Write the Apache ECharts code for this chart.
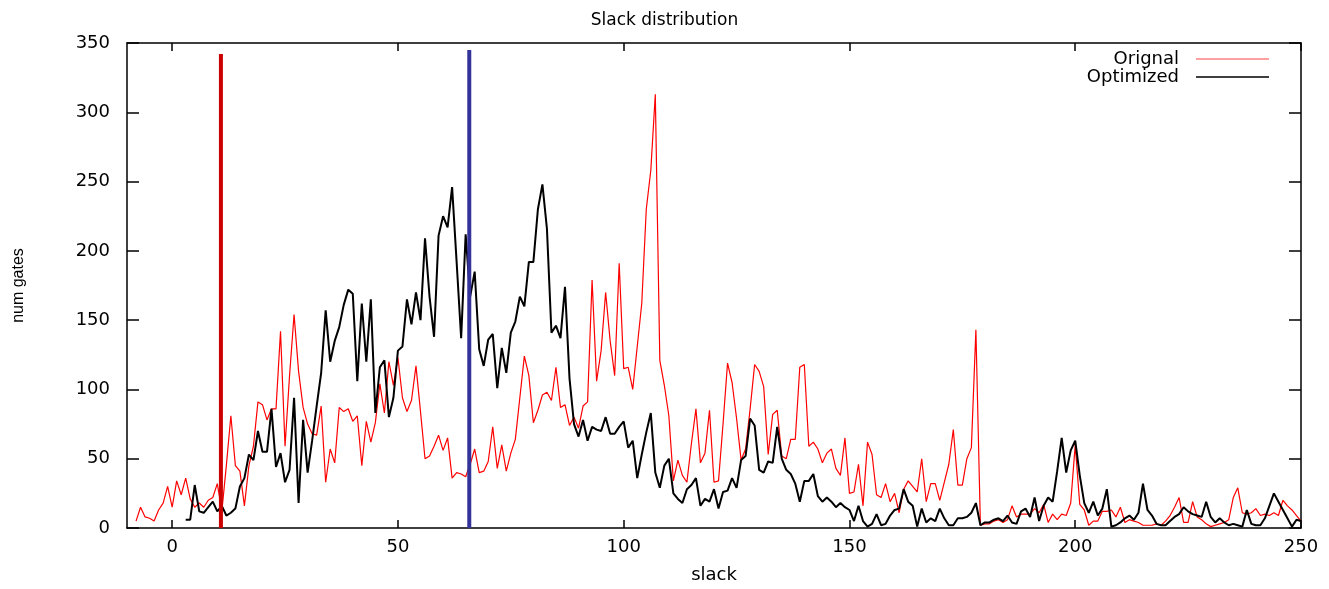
<!DOCTYPE html>
<html>
<head>
<meta charset="utf-8">
<script src="https://cdn.jsdelivr.net/npm/echarts@6/dist/echarts.min.js"></script>
<style>
  html, body { margin: 0; padding: 0; background: #fff; }
  #chart { width: 1329px; height: 589px; }
</style>
</head>
<body>
<div id="chart"></div>
<script>
// slack buckets: one value per unit of slack
const origStart = -8;
const orig = [
  5, 15, 8, 7, 5, 13, 18, 30, 15, 34, 24, 36, 21, 15, 18, 15, 20, 22, 32, 12,
  45, 81, 45, 41, 16, 45, 59, 91, 89, 78, 86, 86, 142, 59, 110, 154, 113, 87, 75, 68,
  67, 88, 33, 57, 47, 87, 84, 86, 77, 81, 45, 77, 62, 76, 104, 83, 120, 103, 123, 94,
  84, 92, 117, 84, 50, 52, 59, 67, 56, 65, 36, 40, 39, 37, 46, 57, 40, 41, 48, 73,
  43, 60, 41, 54, 64, 94, 124, 110, 76, 85, 96, 98, 92, 116, 87, 89, 74, 80, 72, 88,
  91, 179, 106, 128, 170, 135, 110, 191, 115, 116, 100, 131, 162, 230, 258, 313, 121, 103, 81, 34,
  49, 38, 33, 61, 86, 47, 54, 85, 33, 34, 75, 119, 105, 79, 49, 57, 86, 118, 113, 102,
  53, 82, 85, 52, 50, 64, 64, 116, 118, 59, 62, 57, 47, 54, 57, 43, 38, 65, 25, 26,
  46, 16, 62, 53, 24, 22, 32, 19, 25, 11, 28, 34, 30, 26, 50, 19, 32, 32, 20, 33,
  46, 71, 31, 31, 50, 58, 143, 2, 3, 3, 5, 6, 4, 6, 16, 8, 10, 10, 10, 14,
  11, 17, 4, 10, 6, 10, 9, 18, 60, 17, 13, 2, 5, 5, 12, 12, 13, 8, 15, 4,
  6, 5, 4, 2, 2, 2, 3, 2, 5, 9, 15, 22, 4, 4, 19, 8, 6, 3, 1, 2,
  3, 4, 6, 22, 29, 11, 10, 11, 14, 9, 10, 9, 11, 9, 20, 16, 13, 9, 5
];

const optStart = 3;
const optimized = [
  6, 6, 31, 12, 11, 15, 19, 12, 16, 9, 11, 14, 30, 36, 53, 49, 70, 55, 55, 86,
  44, 54, 33, 42, 94, 18, 78, 40, 63, 88, 112, 157, 120, 135, 145, 161, 172, 169, 106, 162,
  120, 165, 83, 116, 121, 80, 94, 128, 131, 165, 147, 170, 150, 209, 167, 138, 211, 225, 217, 246,
  192, 137, 212, 167, 185, 129, 117, 136, 140, 101, 130, 112, 141, 149, 167, 160, 192, 192, 230, 248,
  216, 141, 146, 137, 174, 108, 75, 66, 78, 63, 73, 71, 70, 80, 68, 68, 73, 77, 58, 63,
  36, 53, 69, 83, 40, 29, 45, 50, 25, 21, 18, 28, 31, 36, 16, 21, 19, 28, 14, 26,
  27, 36, 29, 49, 52, 79, 74, 42, 40, 48, 47, 73, 50, 42, 39, 32, 19, 34, 34, 39,
  23, 19, 22, 19, 15, 18, 15, 13, 5, 16, 5, 1, 3, 10, 2, 3, 9, 13, 14, 28,
  19, 16, 1, 14, 4, 7, 5, 14, 7, 2, 2, 7, 7, 8, 11, 18, 2, 4, 4, 6,
  7, 5, 9, 4, 3, 12, 14, 8, 22, 5, 16, 22, 19, 41, 65, 40, 56, 63, 38, 18,
  11, 19, 9, 14, 28, 1, 2, 4, 7, 9, 6, 11, 32, 13, 9, 3, 2, 2, 5, 8,
  10, 15, 12, 10, 9, 8, 19, 8, 4, 7, 4, 2, 3, 2, 1, 13, 3, 2, 2, 7,
  16, 25, 19, 13, 7, 1, 6, 5
];

// vertical markers (slack position, height)
const markerSlack = [10.8, 65.8];
const markerTop = [342, 345];
const markerColors = ['#cc0000', '#333399'];

const xTicks = [0, 50, 100, 150, 200, 250];
const FONT = 'DejaVu Sans';

function toPairs(start, values) {
  return values.map((v, i) => [start + i, v]);
}

const chart = echarts.init(document.getElementById('chart'));

const xBase = {
  type: 'value',
  min: -10,
  max: 250,
  splitLine: { show: false },
  axisLine: { onZero: false, lineStyle: { color: '#000', width: 1.5 } },
  axisTick: { inside: true, length: 8, customValues: xTicks, lineStyle: { color: '#000', width: 1.5 } },
};
const yBase = {
  type: 'value',
  min: 0,
  max: 350,
  interval: 50,
  splitLine: { show: false },
  axisLine: { show: true, onZero: false, lineStyle: { color: '#000', width: 1.5 } },
  axisTick: { inside: true, length: 12, lineStyle: { color: '#000', width: 1.5 } },
};

const markers = markerSlack.map((x, i) => ({
  type: 'line',
  data: [[x, 0], [x, markerTop[i]]],
  symbol: 'none',
  lineStyle: { color: markerColors[i], width: 4 },
  silent: true,
  z: 5,
}));

chart.setOption({
  animation: false,
  title: {
    text: 'Slack distribution',
    left: 'center',
    top: 7,
    textStyle: { fontFamily: FONT, fontSize: 17, fontWeight: 'normal', color: '#000' },
  },
  legend: {
    orient: 'vertical',
    align: 'right',
    right: 55,
    top: 45,
    icon: 'rect',
    itemWidth: 73,
    itemHeight: 1.5,
    itemGap: 0,
    data: [
      { name: 'Orignal', itemStyle: { color: '#ff8080' } },
      { name: 'Optimized', itemStyle: { color: '#000' } },
    ],
    textStyle: { fontFamily: FONT, fontSize: 18, lineHeight: 17, color: '#000', padding: [0, 12, 0, 0] },
  },
  grid: { left: 127, right: 28, top: 43, bottom: 49 },
  xAxis: [
    Object.assign({}, xBase, {
      position: 'bottom',
      name: 'slack',
      nameLocation: 'middle',
      nameGap: 38,
      nameTextStyle: { fontFamily: FONT, fontSize: 18, color: '#000' },
      axisLabel: { customValues: xTicks, margin: 10, fontFamily: FONT, fontSize: 18, color: '#000' },
    }),
    Object.assign({}, xBase, { position: 'top', axisLabel: { show: false } }),
  ],
  yAxis: [
    Object.assign({}, yBase, {
      position: 'left',
      name: 'num gates',
      nameLocation: 'middle',
      nameGap: 100,
      nameTextStyle: { fontFamily: 'Liberation Sans, sans-serif', fontSize: 16, color: '#000' },
      axisLabel: { margin: 17, fontFamily: FONT, fontSize: 18, color: '#000' },
    }),
    Object.assign({}, yBase, { position: 'right', axisLabel: { show: false } }),
  ],
  series: [
    {
      name: 'Orignal',
      type: 'line',
      data: toPairs(origStart, orig),
      symbol: 'none',
      lineStyle: { color: '#ff0000', width: 1.2 },
      itemStyle: { color: '#ff0000' },
      z: 2,
    },
    {
      name: 'Optimized',
      type: 'line',
      data: toPairs(optStart, optimized),
      symbol: 'none',
      lineStyle: { color: '#000000', width: 2 },
      itemStyle: { color: '#000000' },
      z: 3,
    },
  ].concat(markers),
});
</script>
</body>
</html>
